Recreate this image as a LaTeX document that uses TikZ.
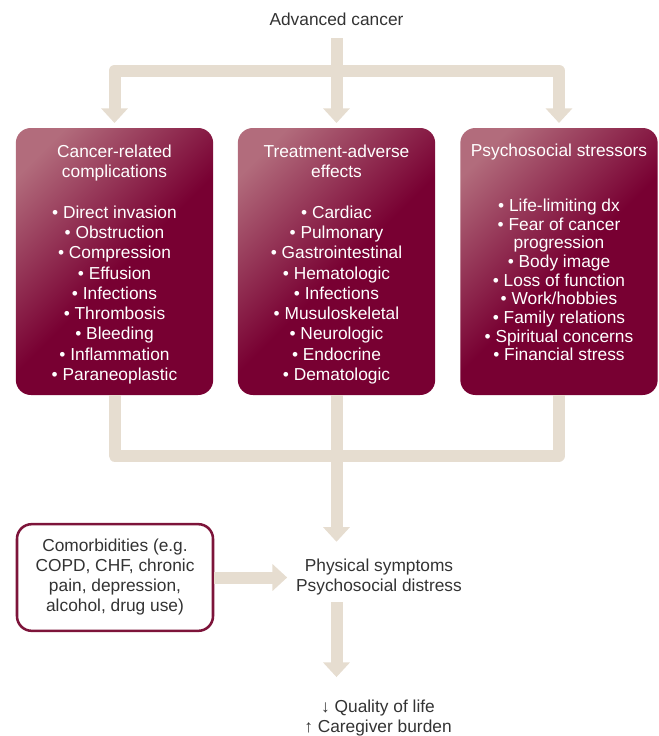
\documentclass[tikz,border=0pt]{standalone}
\usepackage{fontspec}
\setmainfont{Liberation Sans}
\usetikzlibrary{arrows.meta,calc}
\definecolor{mlight}{RGB}{178,108,124}
\definecolor{mdark}{RGB}{120,0,50}
\definecolor{beige}{RGB}{230,221,208}
\definecolor{txt}{RGB}{51,51,51}
\definecolor{mborder}{RGB}{125,20,58}
\pgfdeclarehorizontalshading{boxshade}{100bp}{color(0bp)=(mlight); color(22bp)=(mlight); color(52bp)=(mdark); color(100bp)=(mdark)}
\begin{document}
\begin{tikzpicture}[x=0.75pt,y=-0.75pt,
  every node/.style={inner sep=0pt, outer sep=0pt},
  lbl/.style={font=\fontsize{13}{15}\selectfont, text=txt, align=center},
  catbox/.style={rounded corners=11.25pt, shade, shading=boxshade, shading angle=-45, minimum width=148pt, minimum height=200.25pt},
  cattext/.style={font=\fontsize{13}{15.2}\selectfont, text=white, align=center, anchor=north},
  combox/.style={draw=mborder, line width=1.9pt, fill=white, rounded corners=11pt, minimum width=147pt, minimum height=80pt, align=center, font=\fontsize{13}{15}\selectfont, text=txt},
  conn/.style={draw=beige, line width=9pt, line join=round},
  tipend/.style={-{Triangle[width=19.5pt,length=11pt]}},
  tipboth/.style={{Triangle[width=19.5pt,length=11pt]}-{Triangle[width=19.5pt,length=11pt]}},
]
\useasboundingbox (0,0) rectangle (658,736);

% category boxes
\node[catbox] (b1) at (114.5,261.5) {};
\node[catbox] (b2) at (336.5,261.5) {};
\node[catbox] (b3) at (559,261.5) {};

\node[cattext] (t1) at ([yshift=-12.75pt]b1.north) {Cancer-related\\complications\\[15.2pt]
 • Direct invasion\\ • Obstruction\\ • Compression\\ • Effusion\\ • Infections\\ • Thrombosis\\ • Bleeding\\ • Inflammation\\ • Paraneoplastic};
\node[cattext] (t2) at ([yshift=-12.75pt]b2.north) {Treatment-adverse\\effects\\[15.2pt]
 • Cardiac\\ • Pulmonary\\ • Gastrointestinal\\ • Hematologic\\ • Infections\\ • Musuloskeletal\\ • Neurologic\\ • Endocrine\\ • Dematologic};
\node[cattext, font=\fontsize{13}{14}\selectfont] (t3) at ([yshift=-11.8pt]b3.north) {Psychosocial stressors\\[27.5pt]
 • Life-limiting dx\\ • Fear of cancer\\ progression\\ • Body image\\ • Loss of function\\ • Work/hobbies\\ • Family relations\\ • Spiritual concerns\\ • Financial stress};

% plain labels
\node[lbl, anchor=base] (adv) at (336.5,25) {Advanced cancer};
\node[lbl] (phys) at (379,577.2) {Physical symptoms\\Psychosocial distress};
\node[lbl] (qol) at (378,718.5) {↓ Quality of life\\↑ Caregiver burden};
\node[combox] (com) at (115,577.5) {Comorbidities (e.g.\\COPD, CHF, chronic\\pain, depression,\\alcohol, drug use)};

% connectors
\coordinate (topbar) at (336.5,70.5);
\coordinate (botbar) at (336.5,455.5);
\draw[conn, tipend, shorten <=9.75pt, shorten >=3.75pt] (adv.south) -- (b2.north);
\draw[conn, tipboth, shorten <=3.75pt, shorten >=3.75pt] (b1.north) |- (topbar) -| (b3.north);
\draw[conn] (b1.south) |- (botbar) -| (b3.south);
\draw[conn, tipend, shorten >=13pt] (b2.south) -- (b2.south |- phys.north);
\draw[conn, tipend, shorten <=1pt, shorten >=6.75pt] (com.east) -- (com.east -| phys.west);
\draw[conn, tipend, shorten <=5.25pt, shorten >=17.5pt] (b2.south |- phys.south) -- (b2.south |- qol.north);
\end{tikzpicture}
\end{document}
